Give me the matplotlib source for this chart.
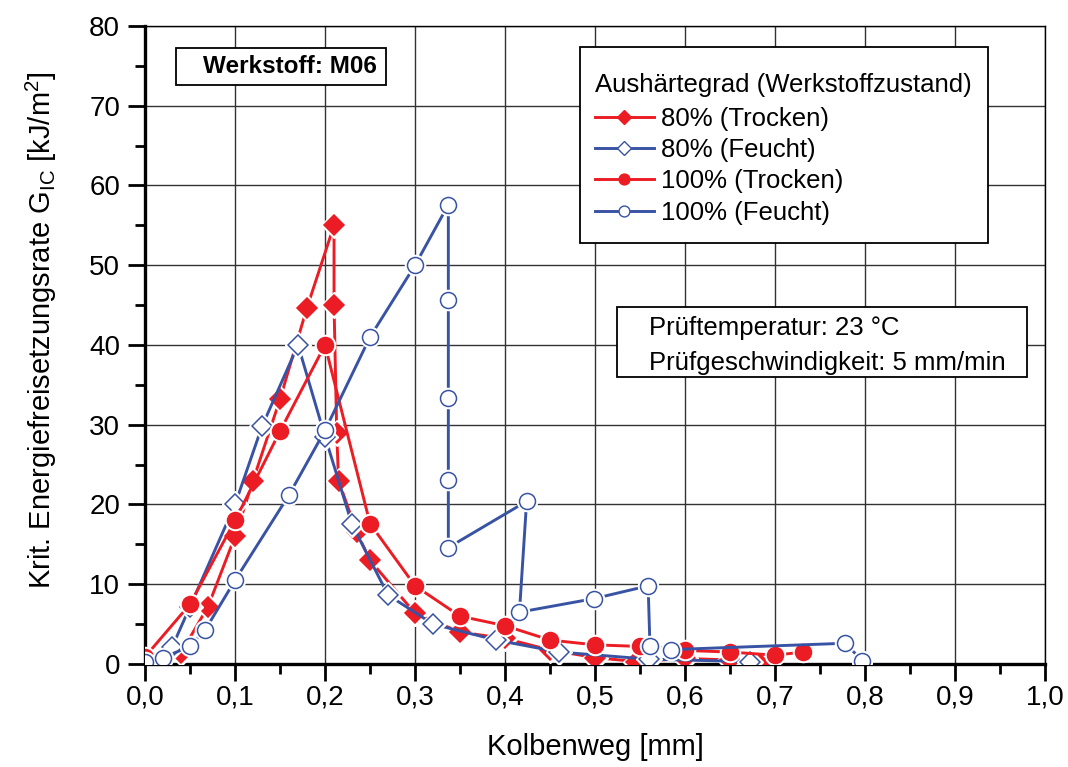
import matplotlib
matplotlib.use("Agg")
import matplotlib.pyplot as plt
from matplotlib.patches import Rectangle
from matplotlib.ticker import MultipleLocator, FixedLocator, FixedFormatter

plt.rcParams["font.family"] = ["Liberation Sans", "DejaVu Sans"]
plt.rcParams["mathtext.fontset"] = "custom"
plt.rcParams["mathtext.rm"] = "Liberation Sans"
plt.rcParams["mathtext.it"] = "Liberation Sans:italic"

# Kolbenweg [mm] / G_IC [kJ/m^2]
x_80_trocken = [0.0, 0.04, 0.07, 0.10, 0.12, 0.15, 0.18, 0.21, 0.21, 0.213, 0.215,
                0.235, 0.25, 0.30, 0.35, 0.40, 0.45, 0.50, 0.546, 0.60, 0.65, 0.683]
y_80_trocken = [0.0, 1.4, 7.2, 16.0, 23.0, 33.2, 44.7, 55.0, 45.0, 29.0, 23.0,
                16.6, 13.0, 6.35, 4.0, 3.2, 1.75, 0.8, 0.3, 0.7, 0.5, 0.0]

x_80_feucht = [0.0, 0.03, 0.05, 0.10, 0.13, 0.17, 0.20, 0.23, 0.27, 0.32, 0.39,
               0.46, 0.56, 0.672]
y_80_feucht = [0.0, 2.1, 7.2, 20.0, 29.8, 40.0, 28.5, 17.5, 8.65, 5.0, 3.0,
               1.5, 0.6, 0.3]

x_100_trocken = [0.0, 0.05, 0.10, 0.15, 0.20, 0.25, 0.30, 0.35, 0.40, 0.45, 0.50,
                 0.55, 0.60, 0.65, 0.70, 0.731]
y_100_trocken = [0.9, 7.5, 18.0, 29.2, 40.0, 17.6, 9.8, 6.0, 4.8, 3.0, 2.4,
                 2.2, 1.7, 1.5, 1.1, 1.5]

x_100_feucht = [0.0, 0.02, 0.05, 0.067, 0.10, 0.16, 0.20, 0.25, 0.30, 0.337, 0.337,
                0.337, 0.337, 0.337, 0.424, 0.416, 0.499, 0.559, 0.561, 0.584,
                0.778, 0.797]
y_100_feucht = [0.2, 0.8, 2.2, 4.3, 10.5, 21.2, 29.3, 41.0, 50.0, 57.6, 45.7,
                33.3, 23.1, 14.6, 20.4, 6.5, 8.2, 9.8, 2.3, 1.8,
                2.6, 0.4]

x_ticks = [0.0, 0.1, 0.2, 0.3, 0.4, 0.5, 0.6, 0.7, 0.8, 0.9, 1.0]
x_ticklabels = ["0,0", "0,1", "0,2", "0,3", "0,4", "0,5", "0,6", "0,7", "0,8", "0,9", "1,0"]
y_ticks = [0, 10, 20, 30, 40, 50, 60, 70, 80]

RED = "#ec1c24"
BLUE = "#3953a4"

series = [
    ("80% (Trocken)", x_80_trocken, y_80_trocken, RED, "D", RED, 10),
    ("80% (Feucht)", x_80_feucht, y_80_feucht, BLUE, "D", "white", 10),
    ("100% (Trocken)", x_100_trocken, y_100_trocken, RED, "o", RED, 11.5),
    ("100% (Feucht)", x_100_feucht, y_100_feucht, BLUE, "o", "white", 11.5),
]

fig = plt.figure(figsize=(10.68, 7.67), dpi=100)
ax = fig.add_axes([0.1358, 0.1343, 0.8427, 0.8318])

handles = []
for i, (label, xs, ys, col, mk, face, ms) in enumerate(series):
    z = 3 + i
    # line first, then a white halo so the line stops short of each marker
    ax.plot(xs, ys, color=col, lw=2.1, zorder=z)
    ax.plot(xs, ys, ls="none", marker=mk, ms=ms + 3, mfc="white", mec="white",
            zorder=z + 0.1)
    ax.plot(xs, ys, ls="none", marker=mk, ms=ms, mfc=face, mec=col, mew=1.1,
            zorder=z + 0.2)
    h, = ax.plot([], [], color=col, lw=2.1, marker=mk, ms=ms * 0.68, mfc=face,
                 mec=col, mew=1.0, label=label)
    handles.append(h)

ax.set_xlim(0, 1.0)
ax.set_ylim(0, 80)

ax.xaxis.set_major_locator(FixedLocator(x_ticks))
ax.xaxis.set_major_formatter(FixedFormatter(x_ticklabels))
ax.xaxis.set_minor_locator(MultipleLocator(0.05))
ax.yaxis.set_major_locator(FixedLocator(y_ticks))
ax.yaxis.set_minor_locator(MultipleLocator(5))

ax.tick_params(which="both", direction="out", top=False, right=False, width=2)
ax.tick_params(which="major", length=12, labelsize=20)
ax.tick_params(which="minor", length=7)
ax.tick_params(axis="x", which="major", pad=3)
ax.tick_params(axis="y", which="major", pad=6)

for side in ("left", "bottom"):
    ax.spines[side].set_linewidth(2.4)
for side in ("top", "right"):
    ax.spines[side].set_linewidth(1.0)

ax.grid(True, which="major", color="#333333", lw=1.0, zorder=1)
ax.set_axisbelow(True)

ax.set_xlabel("Kolbenweg [mm]", fontsize=21, labelpad=16)
ax.set_ylabel("Krit. Energiefreisetzungsrate G$_{\\mathregular{IC}}$ [kJ/m$^{\\mathregular{2}}$]",
              fontsize=21)
ax.yaxis.set_label_coords(-0.096, 0.523)

# Werkstoff box
ax.add_patch(Rectangle((0.0344, 0.9075), 0.2334, 0.058, transform=ax.transAxes,
                       facecolor="white", edgecolor="black", lw=1.3, zorder=10))
ax.text(0.161, 0.9365, "Werkstoff: M06", transform=ax.transAxes, fontsize=17.5,
        fontweight="bold", ha="center", va="center", zorder=11)

# test conditions box
ax.add_patch(Rectangle((0.5244, 0.4498), 0.4556, 0.1098, transform=ax.transAxes,
                       facecolor="white", edgecolor="black", lw=1.3, zorder=10))
ax.text(0.56, 0.5266, "Prüftemperatur: 23 °C", transform=ax.transAxes, fontsize=18.5,
        ha="left", va="center", zorder=11)
ax.text(0.56, 0.4718, "Prüfgeschwindigkeit: 5 mm/min", transform=ax.transAxes,
        fontsize=18.5, ha="left", va="center", zorder=11)

# legend frame drawn separately so its size can be set directly
ax.add_patch(Rectangle((0.4833, 0.6599), 0.4533, 0.3072, transform=ax.transAxes,
                       facecolor="white", edgecolor="black", lw=1.3, zorder=11))
leg = ax.legend(handles=handles, title="Aushärtegrad (Werkstoffzustand)",
                loc="upper left", bbox_to_anchor=(0.4995, 0.926), borderaxespad=0,
                fontsize=18.5, title_fontsize=18.5, alignment="left",
                handlelength=2.3, handletextpad=0.3, labelspacing=0.28,
                borderpad=0, frameon=False)
leg._legend_box.sep = 7
leg.set_zorder(12)

fig.savefig("out.png", dpi=100)
